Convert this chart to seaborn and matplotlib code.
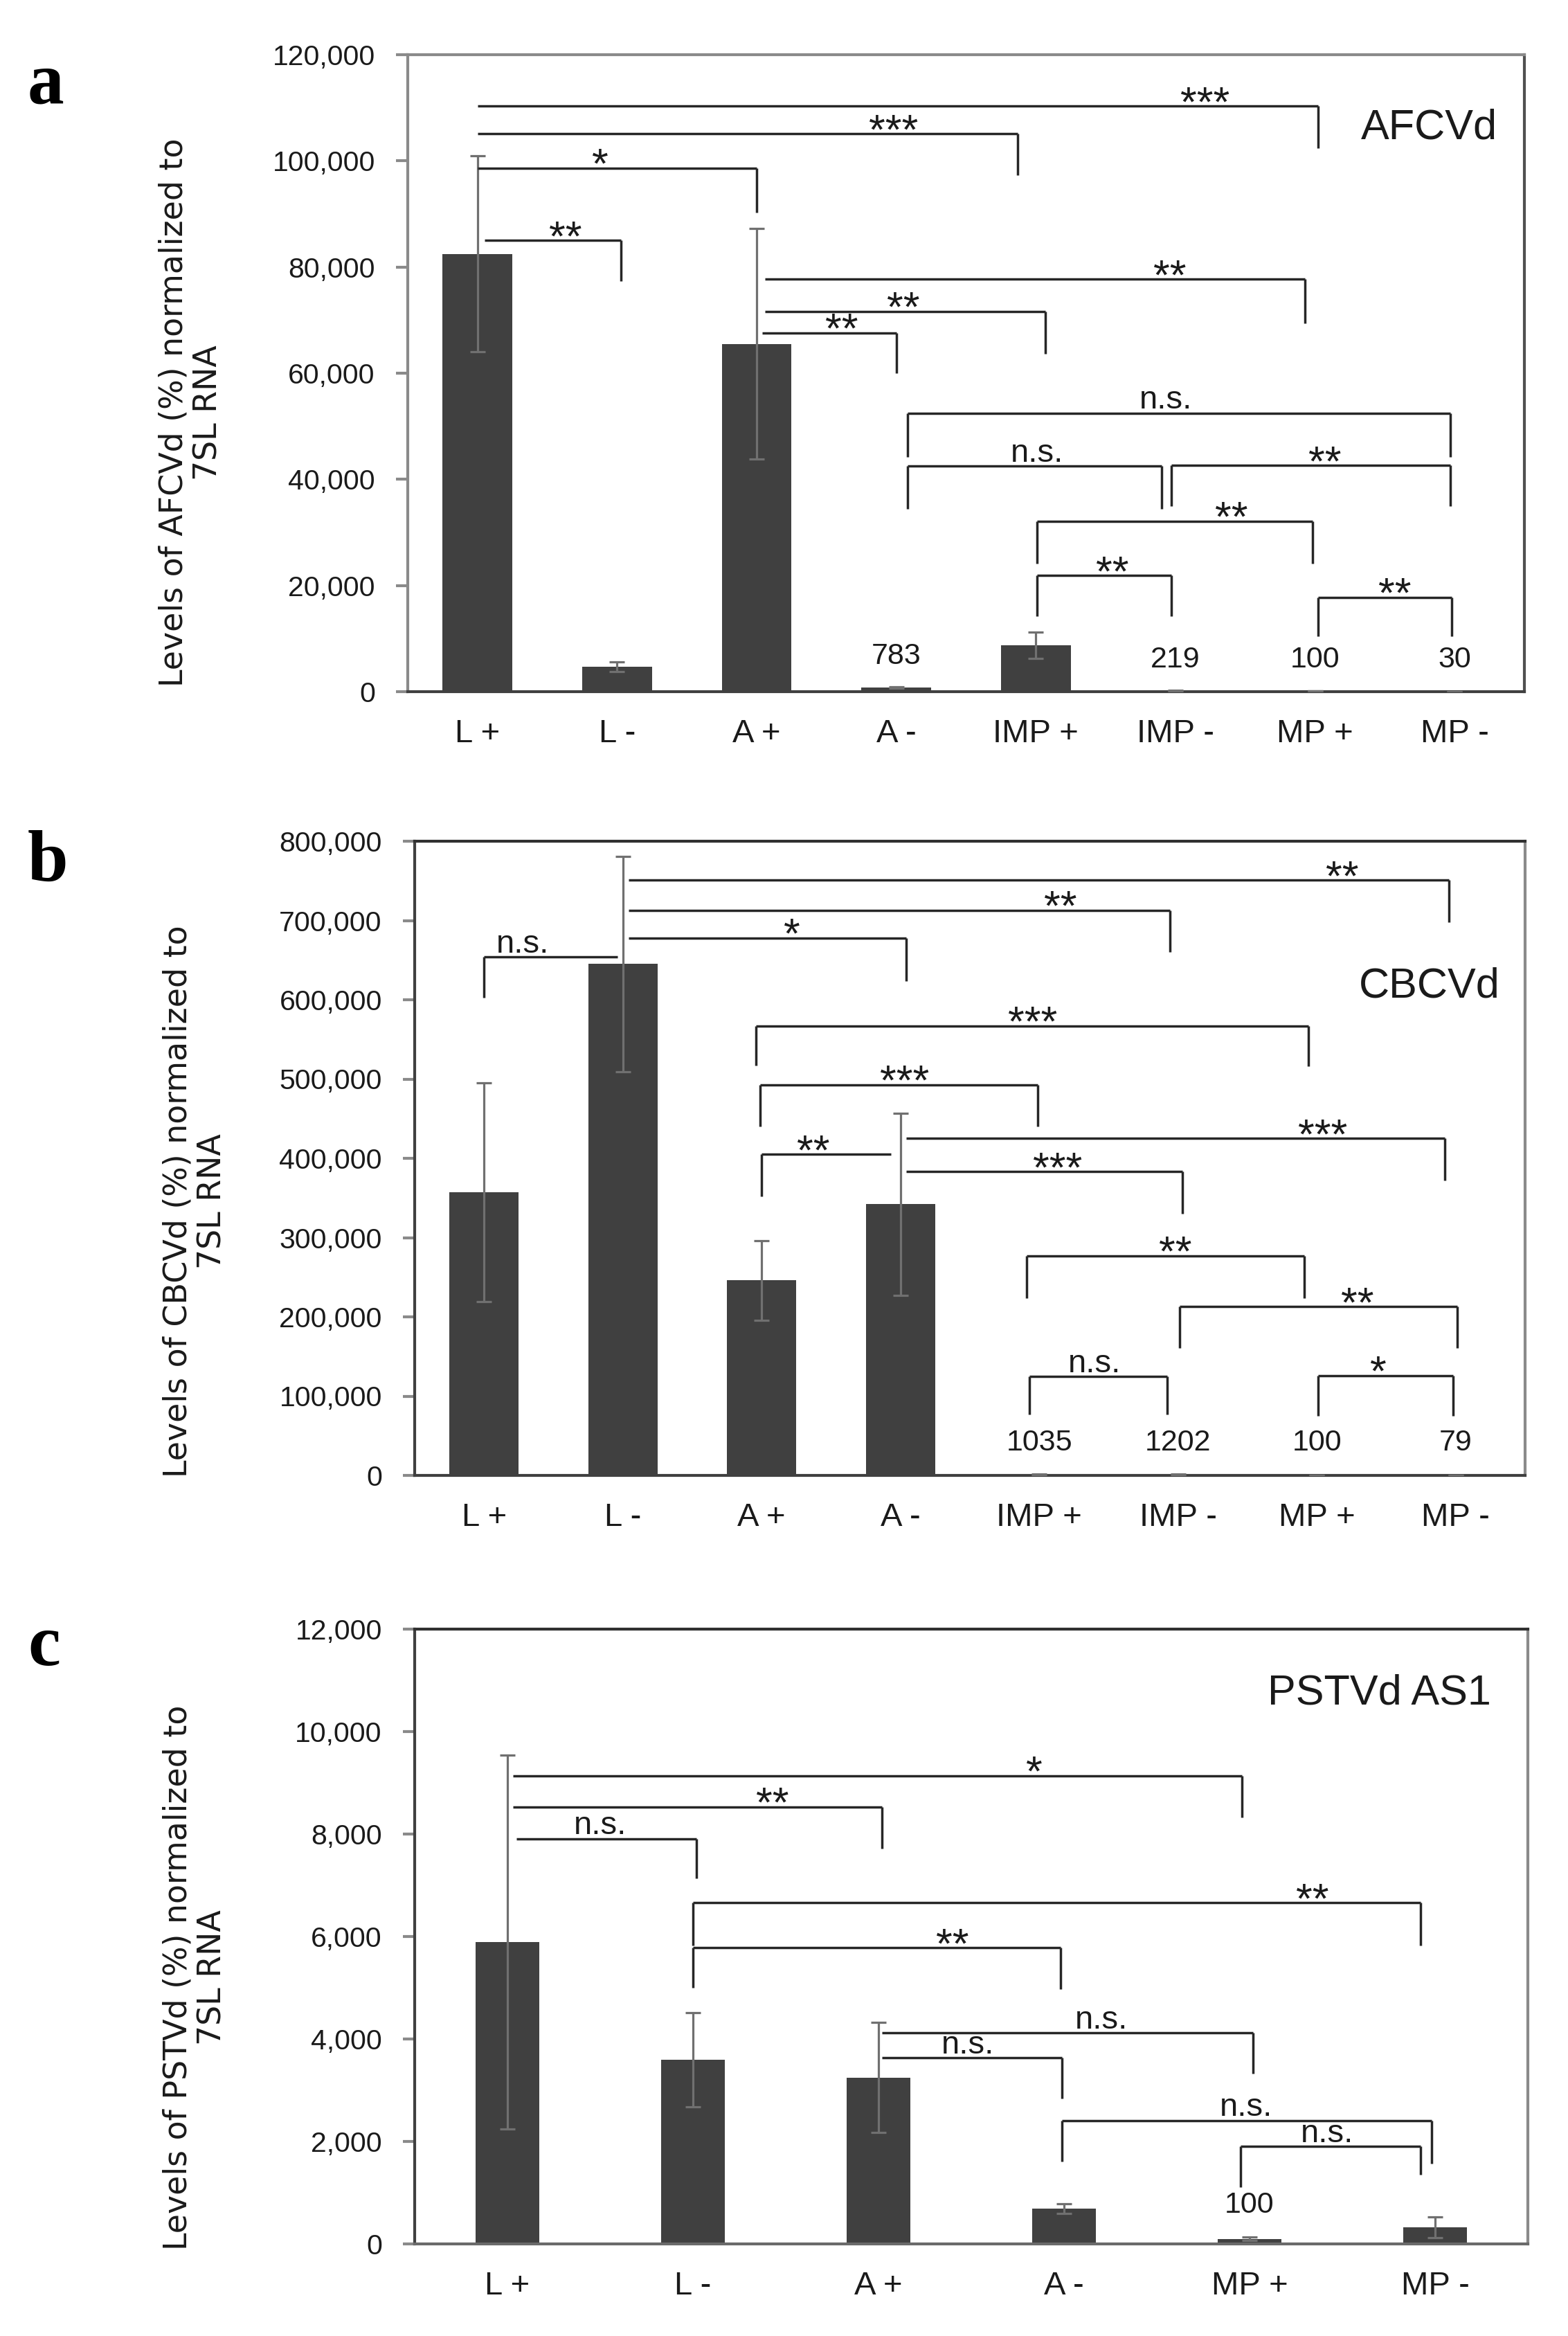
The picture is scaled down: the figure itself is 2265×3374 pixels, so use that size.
import numpy as np
import pandas as pd
import matplotlib
matplotlib.use("Agg")
import matplotlib.pyplot as plt
from matplotlib import font_manager as fm
from matplotlib.ticker import FuncFormatter, FixedLocator
import seaborn as sns

# ---------------- data ----------------
cats_a = ["L +", "L -", "A +", "A -", "IMP +", "IMP -", "MP +", "MP -"]
vals_a = [82500, 4650, 65500, 783, 8750, 219, 100, 30]
errs_a = [18500, 900, 21700, 150, 2500, 60, 20, 10]
vtxt_a_idx = [3, 5, 6, 7]
vtxt_a = ["783", "219", "100", "30"]
vtxt_a_y = [6700, 6000, 6000, 6000]

cats_b = ["L +", "L -", "A +", "A -", "IMP +", "IMP -", "MP +", "MP -"]
vals_b = [357000, 645000, 246000, 342000, 1035, 1202, 100, 79]
errs_b = [138000, 136000, 50000, 115000, 900, 900, 50, 40]
vtxt_b_idx = [4, 5, 6, 7]
vtxt_b = ["1035", "1202", "100", "79"]
vtxt_b_y = [41000, 41000, 41000, 41000]

cats_c = ["L +", "L -", "A +", "A -", "MP +", "MP -"]
vals_c = [5890, 3590, 3250, 690, 100, 320]
errs_c = [3650, 920, 1080, 90, 30, 205]
vtxt_c_idx = [4]
vtxt_c = ["100"]
vtxt_c_y = [750]

# significance brackets: (x1, x2, y, left drop end, right drop end, label, label x)
brk_a = [
    (0.00, 6.02, 110300, None, 102400, "***", 5.21),
    (0.00, 3.87, 105100, None, 97300, "***", 2.98),
    (0.00, 2.00, 98600, None, 90300, "*", 0.88),
    (0.05, 1.03, 85000, None, 77300, "**", 0.63),
    (2.06, 5.93, 77700, None, 69400, "**", 4.96),
    (2.06, 4.07, 71600, None, 63700, "**", 3.05),
    (2.04, 3.00, 67600, None, 60000, "**", 2.61),
    (3.08, 6.97, 52500, 44200, 44200, "n.s.", 4.93),
    (3.08, 4.90, 42500, 34500, 34500, "n.s.", 4.01),
    (4.97, 6.97, 42600, 34900, 34900, "**", 6.07),
    (4.01, 5.98, 32100, 24100, 24100, "**", 5.40),
    (4.01, 4.97, 21900, 14200, 14200, "**", 4.55),
    (6.02, 6.98, 17800, 10400, 10400, "**", 6.57),
]
brk_b = [
    (1.04, 6.95, 751000, None, 698000, "**", 6.18),
    (1.04, 4.94, 713000, None, 660000, "**", 4.15),
    (1.04, 3.04, 678000, None, 624000, "*", 2.22),
    (0.00, 0.96, 654000, 603000, None, "n.s.", 0.28),
    (1.96, 5.94, 567000, 517000, 516000, "***", 3.95),
    (1.99, 3.99, 493000, 440000, 440000, "***", 3.03),
    (3.04, 6.92, 425000, None, 372000, "***", 6.04),
    (2.00, 2.93, 405000, 352000, None, "**", 2.37),
    (3.04, 5.03, 383000, None, 330000, "***", 4.13),
    (3.91, 5.91, 277000, 224000, 224000, "**", 4.98),
    (5.01, 7.01, 213000, 161000, 161000, "**", 6.29),
    (3.93, 4.92, 125000, 77000, 77000, "n.s.", 4.40),
    (6.01, 6.98, 126000, 75000, 75000, "*", 6.44),
]
brk_c = [
    (0.03, 3.96, 9140, None, 8330, "*", 2.84),
    (0.03, 2.02, 8530, None, 7710, "**", 1.43),
    (0.05, 1.02, 7910, None, 7140, "n.s.", 0.50),
    (1.00, 4.92, 6660, 5820, 5820, "**", 4.34),
    (1.00, 2.98, 5780, 5000, 4970, "**", 2.40),
    (2.02, 4.02, 4120, None, 3320, "n.s.", 3.20),
    (2.02, 2.99, 3630, None, 2840, "n.s.", 2.48),
    (2.99, 4.98, 2410, 1610, 1570, "n.s.", 3.98),
    (3.95, 4.92, 1900, 1110, 1350, "n.s.", 4.42),
]

titles = ["AFCVd", "CBCVd", "PSTVd AS1"]
ylabels = ["Levels of AFCVd (%) normalized to\n7SL RNA",
           "Levels of CBCVd (%) normalized to\n7SL RNA",
           "Levels of PSTVd (%) normalized to\n7SL RNA"]
panel_letters = ["a", "b", "c"]

# ---------------- style ----------------
sns.set_theme(style="white")
names = {f.name for f in fm.fontManager.ttflist}
if "Liberation Sans Narrow" in names:
    NARROW, SC = "Liberation Sans Narrow", 1.2
else:
    NARROW, SC = "Liberation Sans", 1.0
plt.rcParams["font.family"] = [NARROW, "DejaVu Sans"]

W, H = 2265, 3374
fig = plt.figure(figsize=(W / 100, H / 100), dpi=100)

# axes boxes in pixels: left, top, right, bottom
boxes = [(589, 79, 2202, 999), (599, 1215, 2203, 2131), (599, 2353, 2207, 3241)]
bar_widths = [0.5, 0.5, 0.345]
ymaxs = [120000, 800000, 12000]
ysteps = [20000, 100000, 2000]
title_pos = [(6.82, 106200), (6.81, 617000), (4.70, 10740)]
ylab_x = [276, 282, 282]
ylab_bottom = [992, 2134, 3250]
letter_pos = [(40, 149), (40, 1273), (40, 2405)]
spine_cols = [
    {"left": "#8a8a8a", "top": "#8a8a8a", "right": "#505050", "bottom": "#404040"},
    {"left": "#404040", "top": "#303030", "right": "#8a8a8a", "bottom": "#404040"},
    {"left": "#404040", "top": "#303030", "right": "#8a8a8a", "bottom": "#6a6a6a"},
]

panels = [
    (cats_a, vals_a, errs_a, vtxt_a_idx, vtxt_a, vtxt_a_y, brk_a),
    (cats_b, vals_b, errs_b, vtxt_b_idx, vtxt_b, vtxt_b_y, brk_b),
    (cats_c, vals_c, errs_c, vtxt_c_idx, vtxt_c, vtxt_c_y, brk_c),
]

TICK_FS = 29.5 * SC
XT_FS = 34 * SC
VAL_FS = 31 * SC
NS_FS = 34 * SC
STAR_FS = 44 * SC
TITLE_FS = 44 * SC

for i, (cats, vals, errs, vidx, vtx, vy, brks) in enumerate(panels):
    l, t, r, b = boxes[i]
    ax = fig.add_axes([l / W, 1 - b / H, (r - l) / W, (b - t) / H])
    df = pd.DataFrame({"cat": cats, "val": vals})
    sns.barplot(data=df, x="cat", y="val", order=cats, color="#404040",
                saturation=1, width=bar_widths[i], errorbar=None, ax=ax,
                edgecolor="none", zorder=2)
    xs = np.arange(len(cats))
    ax.errorbar(xs, vals, yerr=errs, fmt="none", ecolor="#707070",
                elinewidth=2.3, capsize=8, capthick=2.3, zorder=3)
    n = len(cats)
    ax.set_xlim(-0.5, n - 0.5)
    ax.set_ylim(0, ymaxs[i])
    ax.yaxis.set_major_locator(FixedLocator(np.arange(0, ymaxs[i] + 1, ysteps[i])))
    ax.yaxis.set_major_formatter(FuncFormatter(lambda v, p: f"{int(round(v)):,}"))
    ax.set_xlabel("")
    ax.set_ylabel("")
    ax.tick_params(axis="y", which="major", length=12, width=3, color="#8a8a8a",
                   direction="out", pad=22, labelsize=TICK_FS, left=True)
    ax.tick_params(axis="x", length=0, pad=28, labelsize=XT_FS)
    for lab in ax.get_yticklabels() + ax.get_xticklabels():
        lab.set_color("#1a1a1a")
    for side, sp in ax.spines.items():
        sp.set_visible(True)
        sp.set_color(spine_cols[i][side])
        sp.set_linewidth(3.0)
    ax.grid(False)
    ax.set_facecolor("white")

    # value labels
    for k, txt, yy in zip(vidx, vtx, vy):
        ax.text(k, yy, txt, ha="center", va="center", fontsize=VAL_FS,
                color="#1a1a1a", zorder=5)

    # brackets
    for (x1, x2, yy, yl, yr, txt, tx) in brks:
        kw = dict(color="#262626", lw=2.5, solid_capstyle="butt", zorder=4)
        ax.plot([x1, x2], [yy, yy], **kw)
        if yl is not None:
            ax.plot([x1, x1], [yl, yy], **kw)
        if yr is not None:
            ax.plot([x2, x2], [yy, yr], **kw)
        if "*" in txt:
            fs, off = STAR_FS, -10.0
        else:
            fs, off = NS_FS, 4.5
        ax.annotate(txt, (tx, yy), xytext=(0, off), textcoords="offset points",
                    ha="center", va="baseline", fontsize=fs, color="#1a1a1a",
                    zorder=5)

    # title inside plot
    ax.text(title_pos[i][0], title_pos[i][1], titles[i], ha="center", va="center",
            fontsize=TITLE_FS, color="#1a1a1a")

    # y label
    fig.text(ylab_x[i] / W, 1 - ylab_bottom[i] / H, ylabels[i], rotation=90,
             ha="center", va="bottom", multialignment="center",
             fontsize=33, family=["DejaVu Sans"], color="#1a1a1a",
             linespacing=1.12)

    # panel letter
    fig.text(letter_pos[i][0] / W, 1 - letter_pos[i][1] / H, panel_letters[i],
             ha="left", va="baseline", fontsize=76, fontweight="bold",
             family=["Liberation Serif", "DejaVu Serif"], color="black")

fig.savefig("out.png", dpi=100, facecolor="white")
